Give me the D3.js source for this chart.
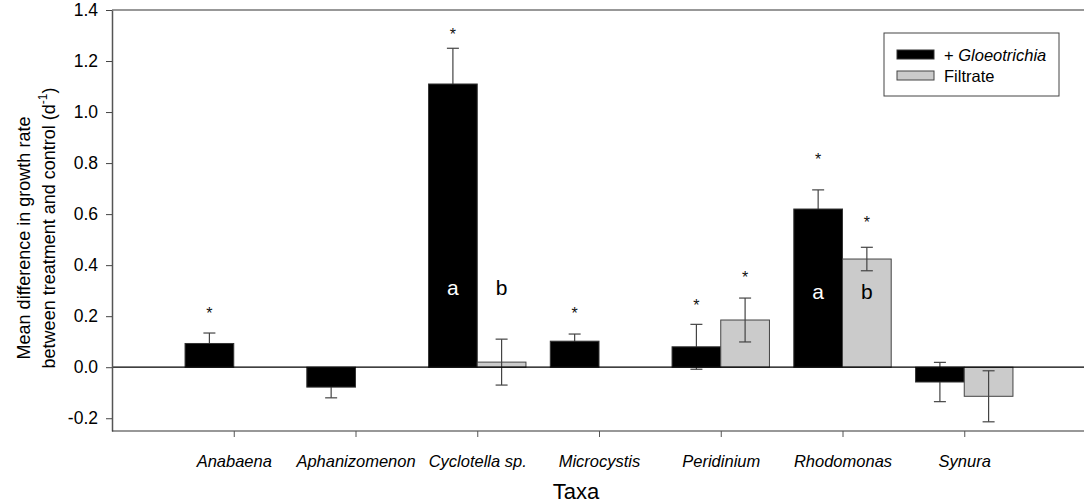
<!DOCTYPE html>
<html>
<head>
<meta charset="utf-8" />
<script src="https://d3js.org/d3.v7.min.js"></script>
<style>
  body { margin: 0; background: #fff; }
  svg text { font-family: Arial, "Liberation Sans", sans-serif; }
</style>
</head>
<body>
<div id="chart"></div>
<script>
// taxa on the x axis
var taxa = ["Anabaena", "Aphanizomenon", "Cyclotella sp.", "Microcystis", "Peridinium", "Rhodomonas", "Synura"];
// + Gloeotrichia series (mean, SE)
var gloeo    = [0.093, -0.078, 1.11, 0.102, 0.08, 0.62, -0.058];
var gloeoErr = [0.041, 0.042, 0.14, 0.028, 0.088, 0.075, 0.077];
// Filtrate series (null = not measured)
var filtrate    = [null, null, 0.02, null, 0.185, 0.424, -0.114];
var filtrateErr = [null, null, 0.09, null, 0.086, 0.046, 0.1];
// significance stars (value where the star sits)
var gloeoStar    = [0.23, null, 1.32, 0.227, 0.26, 0.83, null];
var filtrateStar = [null, null, null, null, 0.37, 0.585, null];
// letters drawn inside the bars
var letters = [
  {taxon: 2, series: "g", text: "a", y: 0.31},
  {taxon: 2, series: "f", text: "b", y: 0.31},
  {taxon: 5, series: "g", text: "a", y: 0.295},
  {taxon: 5, series: "f", text: "b", y: 0.295}
];
var yTicks = [-0.2, 0.0, 0.2, 0.4, 0.6, 0.8, 1.0, 1.2, 1.4];

var W = 1084, H = 504;
var svg = d3.select("#chart").append("svg").attr("width", W).attr("height", H);

var x = d3.scaleLinear().domain([0, 8]).range([112, 1086]);
var y = d3.scaleLinear().domain([-0.25, 1.4]).range([431, 10]);
var barW = 0.4;

var gData = taxa.map(function(t, i) { return {i: i, v: gloeo[i], e: gloeoErr[i]}; });
var fData = taxa.map(function(t, i) { return {i: i, v: filtrate[i], e: filtrateErr[i]}; })
               .filter(function(d) { return d.v !== null; });

function errBars(g, data, off) {
  var sel = g.selectAll("g").data(data).enter().append("g")
    .attr("stroke", "#444").attr("stroke-width", 1.2);
  sel.append("line")
    .attr("x1", function(d) { return x(d.i + 1 + off); })
    .attr("x2", function(d) { return x(d.i + 1 + off); })
    .attr("y1", function(d) { return y(d.v - d.e); })
    .attr("y2", function(d) { return y(d.v + d.e); });
  [-1, 1].forEach(function(s) {
    sel.append("line")
      .attr("x1", function(d) { return x(d.i + 1 + off) - 6; })
      .attr("x2", function(d) { return x(d.i + 1 + off) + 6; })
      .attr("y1", function(d) { return y(d.v + s * d.e); })
      .attr("y2", function(d) { return y(d.v + s * d.e); });
  });
}

// black error bars go behind the black bars
errBars(svg.append("g"), gData, -barW / 2);

svg.append("g").selectAll("rect").data(gData).enter().append("rect")
  .attr("x", function(d) { return x(d.i + 1 - barW); })
  .attr("width", function(d) { return x(barW) - x(0); })
  .attr("y", function(d) { return y(Math.max(0, d.v)); })
  .attr("height", function(d) { return Math.abs(y(d.v) - y(0)); })
  .attr("fill", "#000").attr("stroke", "#333");

svg.append("g").selectAll("rect").data(fData).enter().append("rect")
  .attr("x", function(d) { return x(d.i + 1); })
  .attr("width", function(d) { return x(barW) - x(0); })
  .attr("y", function(d) { return y(Math.max(0, d.v)); })
  .attr("height", function(d) { return Math.abs(y(d.v) - y(0)); })
  .attr("fill", "#cbcbcb").attr("stroke", "#444");

errBars(svg.append("g"), fData, barW / 2);

// zero line
svg.append("line").attr("x1", x(0)).attr("x2", W).attr("y1", y(0)).attr("y2", y(0))
  .attr("stroke", "#000").attr("stroke-width", 1.2);

// top frame line
svg.append("line").attr("x1", x(0)).attr("x2", W).attr("y1", y(1.4)).attr("y2", y(1.4))
  .attr("stroke", "#333").attr("stroke-width", 1.2);

// stars
function stars(arr, off) {
  svg.append("g").selectAll("text")
    .data(arr.map(function(v, i) { return {i: i, v: v}; }).filter(function(d) { return d.v !== null; }))
    .enter().append("text")
    .attr("x", function(d) { return x(d.i + 1 + off); })
    .attr("y", function(d) { return y(d.v) + 10; })
    .attr("text-anchor", "middle").attr("font-size", 16).attr("fill", "#111")
    .text("*");
}
stars(gloeoStar, -barW / 2);
stars(filtrateStar, barW / 2);

svg.append("g").selectAll("text").data(letters).enter().append("text")
  .attr("x", function(d) { return x(d.taxon + 1 + (d.series === "g" ? -barW / 2 : barW / 2)); })
  .attr("y", function(d) { return y(d.y) + 7; })
  .attr("text-anchor", "middle").attr("font-size", 21)
  .attr("fill", function(d) { return d.series === "g" ? "#fff" : "#000"; })
  .text(function(d) { return d.text; });

// axes
var yAxis = svg.append("g").attr("transform", "translate(" + x(0) + ",0)")
  .call(d3.axisLeft(y).tickValues(yTicks).tickSize(6).tickSizeOuter(0)
    .tickFormat(function(d) { return d.toFixed(1); }));
yAxis.select(".domain").attr("stroke", "#555").attr("stroke-width", 1.5);
yAxis.selectAll(".tick line").attr("stroke", "#444");
yAxis.selectAll("text").attr("font-size", 17.5).attr("fill", "#000").attr("x", -14)
  .style("font-family", "Arial, 'Liberation Sans', sans-serif");

var xAxis = svg.append("g").attr("transform", "translate(0," + y(-0.25) + ")")
  .call(d3.axisBottom(x).tickValues(d3.range(1, taxa.length + 1)).tickSize(6).tickSizeOuter(0)
    .tickFormat(function(d) { return taxa[d - 1]; }));
xAxis.select(".domain").attr("d", "M" + x(0) + ",0H" + W).attr("stroke", "#333").attr("stroke-width", 1.2);
xAxis.selectAll(".tick line").attr("stroke", "#555");
xAxis.selectAll("text").attr("font-size", 16.5).attr("font-style", "italic").attr("fill", "#000")
  .attr("y", 24).style("font-family", "Arial, 'Liberation Sans', sans-serif");

// titles
svg.append("text").attr("x", 576).attr("y", 499)
  .attr("text-anchor", "middle").attr("font-size", 22).text("Taxa");

var yt = svg.append("g").attr("transform", "rotate(-90)");
yt.append("text").attr("x", -238).attr("y", 30).attr("text-anchor", "middle").attr("font-size", 18)
  .text("Mean difference in growth rate");
var l2 = yt.append("text").attr("x", -228).attr("y", 55).attr("text-anchor", "middle").attr("font-size", 18);
l2.append("tspan").text("between treatment and control (d");
l2.append("tspan").attr("dy", -8).attr("font-size", 12).text("-1");
l2.append("tspan").attr("dy", 8).text(")");

// legend
var lg = svg.append("g").attr("transform", "translate(884,33)");
lg.append("rect").attr("width", 175).attr("height", 63).attr("fill", "#fff").attr("stroke", "#444");
var legendItems = [{label: "Gloeotrichia", fill: "#000", stroke: "#333"}, {label: "Filtrate", fill: "#cbcbcb", stroke: "#444"}];
legendItems.forEach(function(d, i) {
  lg.append("rect").attr("x", 13).attr("y", 17 + i * 21).attr("width", 37).attr("height", 9)
    .attr("fill", d.fill).attr("stroke", d.stroke);
  var t = lg.append("text").attr("x", 60).attr("y", 28 + i * 21).attr("font-size", 16.5);
  if (i === 0) {
    t.append("tspan").text("+ ");
    t.append("tspan").attr("font-style", "italic").text(d.label);
  } else {
    t.text(d.label);
  }
});
</script>
</body>
</html>
